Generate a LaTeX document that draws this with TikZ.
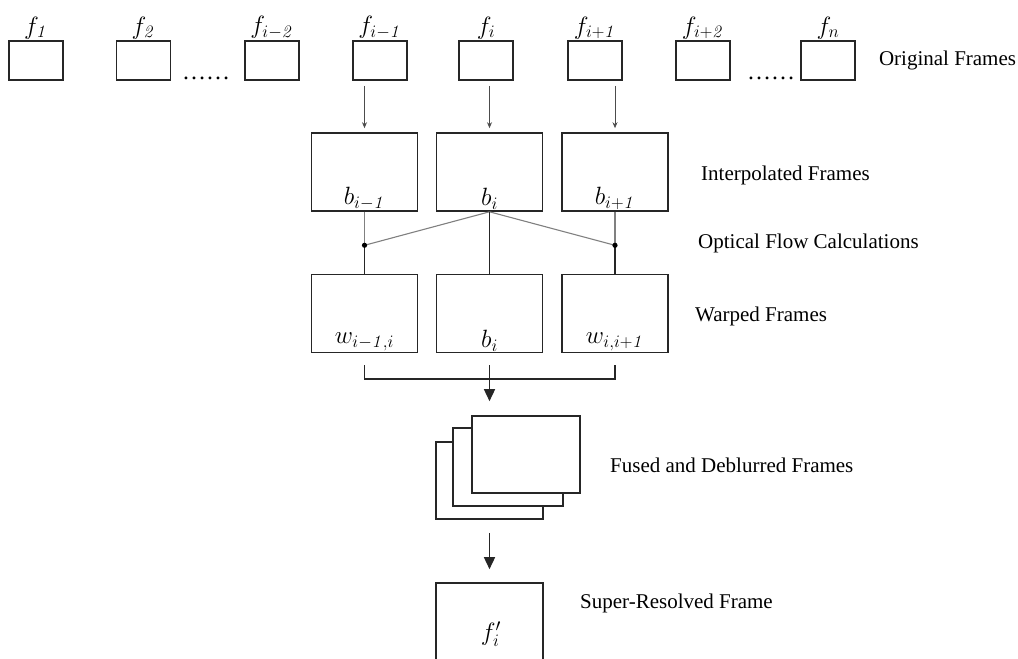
\RequirePackage{fix-cm}
\documentclass[tikz,border=0pt]{standalone}
\usepackage{amsmath}
\usepackage[no-math]{fontspec}
\setmainfont{Liberation Serif}
\usepackage{tikz}
\usetikzlibrary{positioning,arrows.meta}

\begin{document}
\begin{tikzpicture}[
    x=1pt, y=-1pt,
    frame/.style={
        rectangle,
        draw=black!85,
        line width=1.6pt,
        minimum width=54pt,
        minimum height=39pt,
        inner sep=0pt
    },
    bigframe/.style={
        rectangle,
        draw=black!85,
        fill=white,
        line width=1.6pt,
        minimum width=106pt,
        minimum height=78pt,
        inner sep=0pt
    },
    mathlbl/.style={
        font=\fontsize{25}{29}\selectfont,
        inner sep=1pt
    },
    txtlbl/.style={
        font=\fontsize{21}{25}\selectfont,
        anchor=west,
        inner sep=0pt
    },
    dotlbl/.style={
        font=\fontsize{24}{28}\selectfont,
        anchor=base,
        inner sep=0pt
    },
    farrow/.style={draw=black!70, line width=0.8pt, -{Stealth[length=6pt,width=5pt]}},
    link/.style={draw=black!50, line width=1.1pt},
    stem/.style={draw=black!85, line width=1.5pt},
    bigarrow/.style={draw=black!85, line width=1.5pt, -{Triangle[length=12pt,width=11pt]}}
]
\clip (0,0) rectangle (1018,659);

% original frames
\node (f1)   [frame] at (36,60.5)  {};
\node (f2)   [frame] at (143.5,60.5) {};
\node (fim2) [frame] at (272,60.5) {};
\node (fim1) [frame] at (380,60.5) {};
\node (fi)   [frame] at (486,60.5) {};
\node (fip1) [frame] at (595,60.5) {};
\node (fip2) [frame] at (703,60.5) {};
\node (fn)   [frame] at (828,60.5) {};

\node (f1lbl)   [mathlbl, above=0pt of f1]   {$f_{\mathit{1}}$};
\node (f2lbl)   [mathlbl, above=0pt of f2]   {$f_{\mathit{2}}$};
\node (fim2lbl) [mathlbl, above=0pt of fim2] {$f_{i-\mathit{2}}$};
\node (fim1lbl) [mathlbl, above=0pt of fim1] {$f_{i-\mathit{1}}$};
\node (filbl)   [mathlbl, above=0pt of fi]   {$f_{i}$};
\node (fip1lbl) [mathlbl, above=0pt of fip1] {$f_{i+\mathit{1}}$};
\node (fip2lbl) [mathlbl, above=0pt of fip2] {$f_{i+\mathit{2}}$};
\node (fnlbl)   [mathlbl, above=0pt of fn]   {$f_{n}$};

\node (dots1) [dotlbl] at (206,79) {\textellipsis\textellipsis};
\node (dots2) [dotlbl] at (771,79) {\textellipsis\textellipsis};

% interpolated frames
\node (b1) [bigframe] at (364.5,172) {};
\node (b2) [bigframe] at (489.5,172) {};
\node (b3) [bigframe] at (615,172) {};

\node (b1txt) [mathlbl, above=1pt of b1.south] {$b_{i-\mathit{1}}$};
\node (b2txt) [mathlbl, above=1pt of b2.south] {$b_{i}$};
\node (b3txt) [mathlbl, above=1pt of b3.south] {$b_{i+\mathit{1}}$};

% warped frames
\node (w1) [bigframe] at (364.5,313.5) {};
\node (w2) [bigframe] at (489.5,313.5) {};
\node (w3) [bigframe] at (615,313.5) {};

\node (w1txt) [mathlbl, above=1pt of w1.south] {$w_{i-\mathit{1},i}$};
\node (w2txt) [mathlbl, above=1pt of w2.south] {$b_{i}$};
\node (w3txt) [mathlbl, above=1pt of w3.south] {$w_{i,i+\mathit{1}}$};

% fused and deblurred frames
\node (fz3) [bigframe, minimum width=107pt, minimum height=77pt] at (489.5,480.5) {};
\node (fz2) [bigframe, minimum width=110pt, minimum height=78pt] at (508,467) {};
\node (fz1) [bigframe, minimum width=108pt, minimum height=77pt] at (526,454.5) {};

% super-resolved frame
\node (sr) [bigframe, minimum width=107pt, minimum height=120pt] at (489.5,643) {};
\node (srtxt) [mathlbl] at (491,634) {$f'_{i}$};

% row labels
\node (origlbl)    [txtlbl, right=23pt of fn] {Original Frames};
\node (interplbl)  [txtlbl] at (701,175) {Interpolated Frames};
\node (flowlbl)    [txtlbl] at (698,243) {Optical Flow Calculations};
\node (warplbl)    [txtlbl] at (695,316) {Warped Frames};
\node (fusedlbl)   [txtlbl] at (610,465) {Fused and Deblurred Frames};
\node (superlbl)   [txtlbl] at (580,603) {Super-Resolved Frame};

% connectors
\draw [farrow, shorten <=5pt, shorten >=4pt] (fim1.south -| b1.north) -- (b1.north);
\draw [farrow, shorten <=5pt, shorten >=4pt] (fi.south -| b2.north) -- (b2.north);
\draw [farrow, shorten <=5pt, shorten >=4pt] (fip1.south -| b3.north) -- (b3.north);

\coordinate (jl) at ([yshift=-33.5pt]b1.south);
\coordinate (jr) at ([yshift=-33.5pt]b3.south);

\draw [link] (b1.south) -- (jl);
\draw [link] (b3.south) -- (jr);
\draw [link] (b2.south) -- (jl);
\draw [link] (b2.south) -- (jr);
\draw [stem] (jl) -- (w1.north);
\draw [stem] (jr) -- (w3.north);
\draw [stem] (b2.south) -- (w2.north);
\fill (jl) circle (2.6pt);
\fill (jr) circle (2.6pt);

\draw [stem] ([yshift=-12pt]w1.south) -- ([yshift=-25.5pt]w1.south) -| ([yshift=-12pt]w3.south);
\draw [bigarrow, shorten <=12pt, shorten >=14pt] (w2.south) -- (w2.south |- fz1.north);
\draw [bigarrow, shorten <=13pt, shorten >=13pt] (fz3.south) -- (sr.north);

\end{tikzpicture}
\end{document}
